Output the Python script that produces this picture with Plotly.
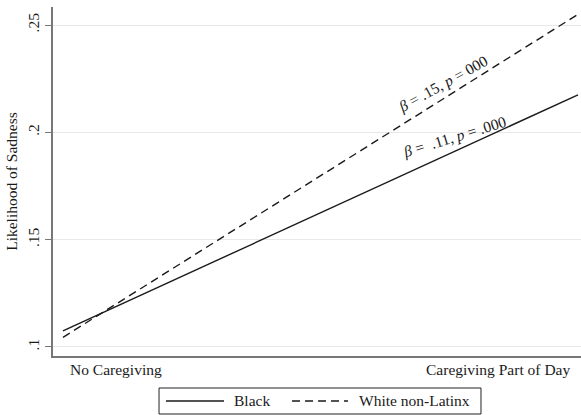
import plotly.graph_objects as go

# Predicted likelihood of sadness by caregiving status
x_pos = [0, 1]
x_labels = ["No Caregiving", "Caregiving Part of Day"]
black_vals = [0.1075, 0.2175]
white_vals = [0.1045, 0.2550]
y_ticks = [0.10, 0.15, 0.20, 0.25]
y_tick_text = [".1", ".15", ".2", ".25"]
series_names = ["Black", "White non-Latinx"]
series_dash = ["solid", "8px,5px"]

FONT = "Liberation Serif, Times New Roman, serif"
INK = "#1a1a1a"
FS = 15.5

fig = go.Figure()
for name, vals, dash in zip(series_names, [black_vals, white_vals], series_dash):
    fig.add_trace(go.Scatter(x=x_pos, y=vals, mode="lines", name=name, showlegend=False,
                             line=dict(color=INK, width=1.4, dash=dash)))

# slope labels along each line
fig.add_annotation(x=0.738, y=0.2226, text="<i>β</i> = .15, <i>p</i> = 000",
                   showarrow=False, textangle=-29, font=dict(family=FONT, size=FS, color=INK))
fig.add_annotation(x=0.761, y=0.1979, text="<i>β</i> =  .11, <i>p</i> = .000",
                   showarrow=False, textangle=-17, font=dict(family=FONT, size=FS, color=INK))

# category labels under the x axis
fig.add_annotation(x=x_pos[0], y=0, xref="x", yref="paper", text=x_labels[0],
                   xanchor="left", yanchor="top", xshift=5, yshift=-3, showarrow=False,
                   font=dict(family=FONT, size=FS, color=INK))
fig.add_annotation(x=x_pos[1], y=0, xref="x", yref="paper", text=x_labels[1],
                   xanchor="right", yanchor="top", xshift=-6, yshift=-3, showarrow=False,
                   font=dict(family=FONT, size=FS, color=INK))

# boxed key below the plot, with long line samples
box_y0, box_y1, key_y = -0.1662, -0.0917, -0.1289
fig.add_shape(type="rect", xref="paper", yref="paper", x0=0.2008, x1=0.8106,
              y0=box_y0, y1=box_y1, line=dict(color="#222", width=1), fillcolor="white")
key_items = [(0.2140, 0.3239, 0.339), (0.4527, 0.5587, 0.5758)]
for (sx0, sx1, tx), name, dash in zip(key_items, series_names, series_dash):
    fig.add_shape(type="line", xref="paper", yref="paper", x0=sx0, x1=sx1,
                  y0=key_y, y1=key_y, line=dict(color=INK, width=1.4, dash=dash))
    fig.add_annotation(x=tx, y=key_y, xref="paper", yref="paper", text=name,
                       xanchor="left", yanchor="middle", showarrow=False,
                       font=dict(family=FONT, size=FS, color=INK))

fig.update_layout(
    width=581, height=415,
    margin=dict(l=53, r=0, t=7, b=59, autoexpand=False),
    paper_bgcolor="white", plot_bgcolor="white",
    font=dict(family=FONT, size=FS, color=INK),
    showlegend=False,
    xaxis=dict(range=[-0.0194, 1.0058], showticklabels=False, ticks="", showgrid=False,
               zeroline=False, showline=True, linecolor="#777", linewidth=1.5),
    yaxis=dict(range=[0.0958, 0.2584], tickvals=y_ticks, ticktext=y_tick_text,
               tickangle=-90, ticks="outside", ticklen=6, tickcolor="#777",
               showgrid=True, gridcolor="#e8e8e8", gridwidth=1, zeroline=False,
               showline=True, linecolor="#777", linewidth=1.5,
               title=dict(text="Likelihood of Sadness", standoff=4,
                          font=dict(family=FONT, size=FS, color=INK))),
)

fig.write_html("out.html")
